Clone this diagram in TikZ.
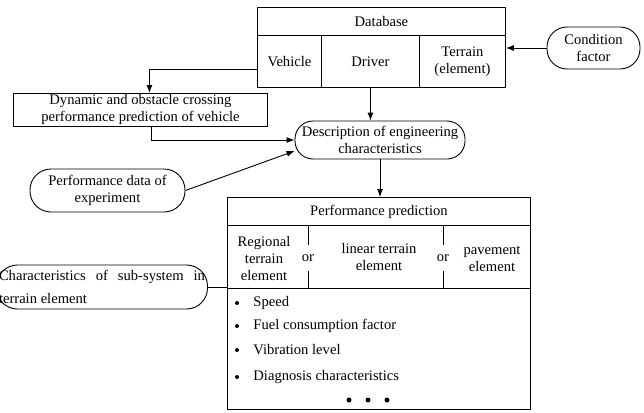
\documentclass[tikz,border=0pt]{standalone}
\usepackage{fontspec}
\setmainfont{Liberation Serif}
\usetikzlibrary{arrows.meta,positioning}
\begin{document}
\begin{tikzpicture}[x=1pt,y=-1pt,line width=0.9pt,
    font=\fontsize{14.6}{17}\selectfont,
    box/.style={draw,rectangle,inner sep=0pt,align=center,anchor=north west},
    pill/.style={draw,rectangle,rounded corners=#1,inner sep=0pt,align=center},
    ortext/.style={inner sep=0pt,minimum height=26pt},
    arr/.style={-{Latex[length=8pt,width=6pt]}}]
    \useasboundingbox (0,0) rectangle (644,412);

    % database
    \node[box,minimum width=248pt,minimum height=28pt] (db) at (257,7) {Database};
    \node[box,minimum width=64pt,minimum height=52pt] (veh) at (257,35) {Vehicle};
    \node[box,minimum width=98pt,minimum height=52pt] (drv) at (321,35) {Driver};
    \node[box,minimum width=86pt,minimum height=52pt] (ter) at (419,35) {Terrain\\(element)};
    \node[pill=20pt,minimum width=93pt,minimum height=42pt] (cond) at (593.5,48) {Condition\\factor};

    \node[box,minimum width=254pt,minimum height=33pt] (dyn) at (13,93)
        {Dynamic and obstacle crossing\\performance prediction of vehicle};
    \node[pill=18pt,minimum width=170pt,minimum height=38pt] (desc) at (380,140)
        {Description of engineering\\characteristics};
    \node[pill=21pt,minimum width=155pt,minimum height=43pt] (exp) at (107.5,190.5)
        {Performance data of\\experiment};
    \node[pill=21pt,minimum width=211pt,minimum height=44pt,text width=206pt,align=justify,
        font=\fontsize{14.6}{23}\selectfont] (char) at (102,287)
        {Characteristics of sub-system in\linebreak terrain element};

    % performance prediction
    \node[box,minimum width=303pt,minimum height=28pt] (pp) at (227,197) {Performance prediction};
    \node[box,minimum width=303pt,minimum height=63pt] (row) at (227,225) {};
    \node[align=center,inner sep=0pt] (reg) at (264,259) {Regional\\terrain\\element};
    \node[align=center,inner sep=0pt] (lin) at (379,257) {linear terrain\\element};
    \node[align=center,inner sep=0pt] (pav) at (492,258.5) {pavement\\element};
    \node[ortext] (or1) at (308,258) {or};
    \node[ortext] (or2) at (443,258) {or};
    \draw (or1.north) -- (or1.north |- row.north);
    \draw (or1.south) -- (or1.south |- row.south);
    \draw (or2.north) -- (or2.north |- row.north);
    \draw (or2.south) -- (or2.south |- row.south);
    \node[box,minimum width=303pt,minimum height=121pt] (lst) at (227,288) {};
    \foreach \y/\t in {303/Speed,326/Fuel consumption factor,350/Vibration level,377/Diagnosis characteristics}
        {\fill (237,\y) circle (2);
        \node[anchor=west,inner sep=0pt] at (253,\y) {\t};}
    \foreach \x in {349,368,387}
        \fill (\x,400) circle (2.5);

    % connectors
    \draw[arr] (cond.west) -- (cond.west -| db.east);
    \draw[arr] ([yshift=-8pt]veh.west) -| ([xshift=9pt]dyn.north);
    \draw[arr] (drv.south) -- (drv.south |- desc.north);
    \draw[arr] ([xshift=11pt]dyn.south) |- (desc.west);
    \draw[arr] (exp.east) -- ([yshift=-11pt]desc.west);
    \draw[arr] (desc.south) -- (desc.south |- pp.north);
    \draw (char.east) -- (char.east -| row.west);
\end{tikzpicture}
\end{document}
